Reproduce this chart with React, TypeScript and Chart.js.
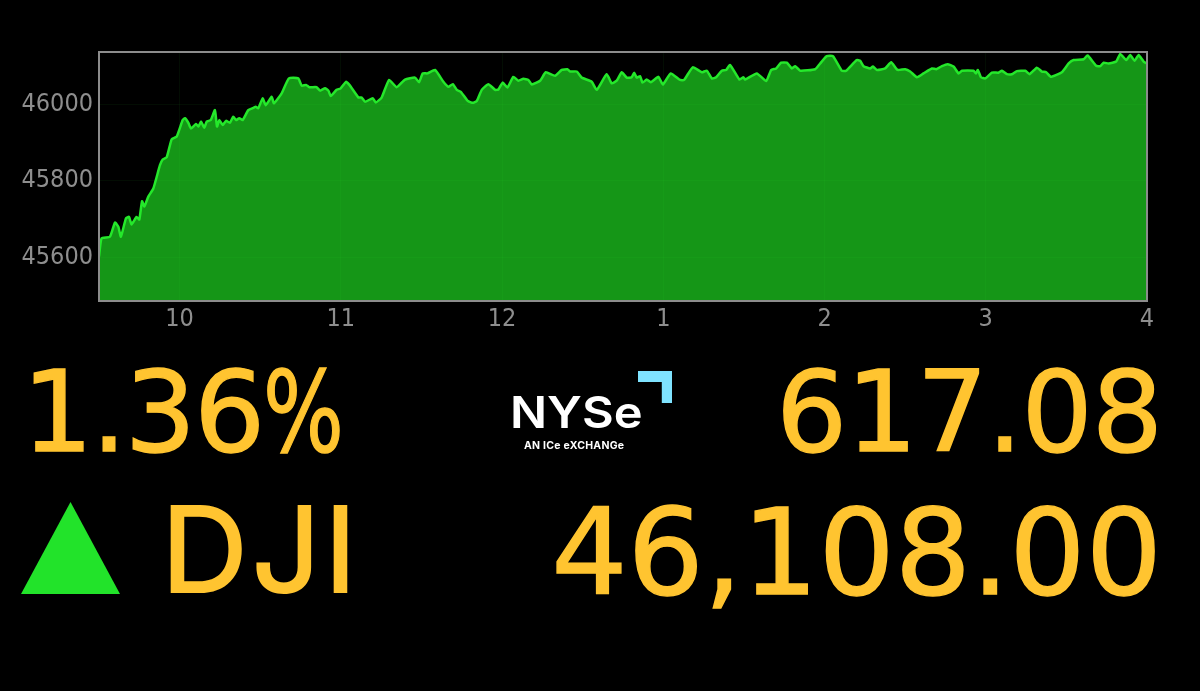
import React, { useEffect, useRef } from "react";
import { Chart, registerables } from "chart.js";

Chart.register(...registerables);

const hours = [
  9.5, 9.516, 9.568, 9.599, 9.62, 9.636, 9.667, 9.686, 9.702, 9.733, 9.75, 9.767, 9.781, 9.806, 9.837, 9.878, 9.895, 9.92, 9.951, 9.982,
  10.019, 10.033, 10.054, 10.071, 10.102, 10.116, 10.133, 10.153, 10.168, 10.193, 10.219, 10.232, 10.246, 10.267, 10.288, 10.312, 10.333, 10.35, 10.37, 10.391,
  10.426, 10.457, 10.472, 10.488, 10.515, 10.534, 10.571, 10.585, 10.633, 10.678, 10.736, 10.757, 10.784, 10.805, 10.85, 10.871, 10.902, 10.923, 10.937, 10.974,
  10.999, 11.032, 11.053, 11.109, 11.129, 11.15, 11.198, 11.216, 11.253, 11.299, 11.346, 11.398, 11.46, 11.485, 11.508, 11.537, 11.584, 11.636, 11.667, 11.694,
  11.719, 11.744, 11.787, 11.818, 11.843, 11.874, 11.915, 11.957, 11.977, 12.004, 12.033, 12.07, 12.101, 12.132, 12.163, 12.184, 12.236, 12.271, 12.329, 12.37,
  12.405, 12.422, 12.463, 12.494, 12.556, 12.587, 12.649, 12.68, 12.711, 12.742, 12.773, 12.804, 12.819, 12.835, 12.856, 12.871, 12.897, 12.922, 12.97, 12.997,
  13.046, 13.104, 13.129, 13.183, 13.239, 13.27, 13.301, 13.328, 13.363, 13.39, 13.414, 13.472, 13.497, 13.507, 13.58, 13.638, 13.669, 13.7, 13.731, 13.766,
  13.797, 13.818, 13.849, 13.942, 13.973, 14.014, 14.052, 14.107, 14.134, 14.2, 14.221, 14.242, 14.283, 14.3, 14.325, 14.376, 14.413, 14.453, 14.5, 14.531,
  14.573, 14.614, 14.666, 14.693, 14.728, 14.763, 14.8, 14.831, 14.852, 14.924, 14.939, 14.951, 14.97, 14.997, 15.038, 15.079, 15.1, 15.131, 15.162, 15.193,
  15.245, 15.272, 15.317, 15.348, 15.375, 15.404, 15.472, 15.514, 15.545, 15.607, 15.631, 15.685, 15.71, 15.731, 15.762, 15.809, 15.834, 15.871, 15.896, 15.923,
  15.948, 15.979, 16.0,
];

const prices = [
  45601, 45649, 45653, 45690, 45679, 45653, 45701, 45705, 45685, 45705, 45698, 45746, 45732, 45758, 45779, 45840, 45855, 45861, 45908, 45915,
  45958, 45963, 45951, 45936, 45948, 45941, 45954, 45938, 45954, 45958, 45984, 45941, 45958, 45945, 45956, 45951, 45967, 45958, 45963, 45958,
  45984, 45990, 45993, 45989, 46015, 45997, 46019, 46002, 46028, 46067, 46067, 46048, 46050, 46044, 46044, 46035, 46041, 46035, 46021, 46037,
  46041, 46058, 46050, 46017, 46017, 46006, 46015, 46004, 46017, 46063, 46044, 46064, 46069, 46057, 46080, 46080, 46089, 46058, 46045, 46052,
  46037, 46032, 46008, 46003, 46008, 46037, 46052, 46037, 46038, 46056, 46043, 46071, 46061, 46066, 46063, 46051, 46061, 46083, 46074, 46089,
  46091, 46085, 46085, 46069, 46058, 46037, 46078, 46054, 46061, 46083, 46069, 46070, 46082, 46069, 46073, 46056, 46064, 46057, 46071, 46051,
  46080, 46063, 46063, 46096, 46083, 46087, 46067, 46070, 46087, 46089, 46102, 46064, 46070, 46064, 46080, 46060, 46089, 46093, 46108, 46108,
  46093, 46099, 46087, 46091, 46106, 46125, 46125, 46087, 46087, 46115, 46113, 46099, 46093, 46098, 46089, 46093, 46109, 46089, 46091, 46085,
  46070, 46080, 46093, 46091, 46099, 46104, 46098, 46080, 46087, 46087, 46080, 46089, 46070, 46067, 46082, 46082, 46087, 46078, 46078, 46086,
  46087, 46078, 46095, 46085, 46083, 46071, 46083, 46106, 46115, 46117, 46127, 46100, 46099, 46108, 46106, 46111, 46131, 46115, 46128, 46113,
  46128, 46111, 46106,
];

const yTicks = [45600, 45800, 46000];
const xTicks = [10, 11, 12, 13, 14, 15, 16];
const percentValue = "1.36";
const symbolText = "DJI";
const changeText = "617.08";
const levelText = "46,108.00";

const frame = {
  id: "frame",
  afterDraw(chart: any) {
    const { ctx, chartArea: a } = chart;
    ctx.save();
    ctx.strokeStyle = "#8c8c8c";
    ctx.lineWidth = 2;
    ctx.strokeRect(a.left, a.top, a.right - a.left, a.bottom - a.top);
    ctx.restore();
  },
};

const gold = "#ffc430";
const digitFont = "'DejaVu Sans', sans-serif";
const tickFont = "'DejaVu Sans Condensed', 'DejaVu Sans', sans-serif";

function Big({ children, style }: { children: React.ReactNode; style: React.CSSProperties }) {
  return (
    <div style={{ position: "absolute", fontFamily: digitFont, color: gold, whiteSpace: "nowrap", lineHeight: 1, WebkitTextStroke: `1.4px ${gold}`, ...style }}>
      {children}
    </div>
  );
}

export default function App() {
  const ref = useRef<HTMLCanvasElement>(null);

  useEffect(() => {
    document.body.style.margin = "0";
    document.body.style.background = "#000";
    const chart = new Chart(ref.current as HTMLCanvasElement, {
      type: "line",
      data: {
        datasets: [
          {
            data: hours.map((h, i) => ({ x: h, y: prices[i] })),
            borderColor: "#25e82b",
            borderWidth: 2.5,
            backgroundColor: "#159617",
            fill: "start",
            pointRadius: 0,
            tension: 0.15,
          },
        ],
      },
      plugins: [frame],
      options: {
        animation: false,
        responsive: false,
        layout: { padding: { left: 0, right: 53, top: 52, bottom: 350 } },
        plugins: { legend: { display: false }, tooltip: { enabled: false } },
        scales: {
          x: {
            type: "linear",
            min: 9.5,
            max: 16,
            afterBuildTicks: (axis: any) => {
              axis.ticks = xTicks.map((value) => ({ value }));
            },
            afterFit: (axis: any) => {
              axis.height = 40;
              axis.paddingLeft = 0;
              axis.paddingRight = 0;
            },
            grid: { color: "rgba(60,255,60,0.05)", drawTicks: false, z: 1 },
            border: { display: false },
            ticks: {
              color: "#8e8e8e",
              padding: 3,
              maxRotation: 0,
              autoSkip: false,
              font: { family: tickFont, size: 25 },
              callback: (v: any) => String(v > 12 ? v - 12 : v),
            },
          },
          y: {
            min: 45485,
            max: 46136,
            afterBuildTicks: (axis: any) => {
              axis.ticks = yTicks.map((value) => ({ value }));
            },
            afterFit: (axis: any) => {
              axis.width = 99;
            },
            grid: { color: "rgba(60,255,60,0.05)", drawTicks: false, z: 1 },
            border: { display: false },
            ticks: {
              color: "#8e8e8e",
              padding: 6,
              font: { family: tickFont, size: 25 },
              callback: (v: any) => String(v),
            },
          },
        },
      },
    });
    return () => chart.destroy();
  }, []);

  return (
    <div style={{ position: "relative", width: 1200, height: 691, background: "#000", overflow: "hidden" }}>
      <canvas ref={ref} width={1200} height={691} style={{ position: "absolute", left: 0, top: 0, display: "block" }} />
      <Big style={{ left: 22, top: 356, fontSize: 112, letterSpacing: -2 }}>
        {percentValue}
        <span style={{ display: "inline-block", transform: "scaleX(0.76)", transformOrigin: "left center", letterSpacing: 0 }}>%</span>
      </Big>
      <Big style={{ right: 38, top: 356, fontSize: 112, letterSpacing: -1 }}>{changeText}</Big>
      <Big style={{ right: 38, top: 493, fontSize: 120, letterSpacing: 0 }}>{levelText}</Big>
      <div style={{ position: "absolute", left: 161, top: 489, fontFamily: "Inter, sans-serif", fontWeight: 500, fontSize: 121, lineHeight: 1, color: gold, letterSpacing: 3, whiteSpace: "nowrap" }}>{symbolText}</div>
      <div style={{ position: "absolute", left: 21, top: 502, width: 99, height: 92, background: "#22e32a", clipPath: "polygon(50% 0, 100% 100%, 0 100%)" }} />
      <div style={{ position: "absolute", left: 638, top: 371, width: 34, height: 32, background: "#7fe3ff", clipPath: "polygon(0 0, 100% 0, 100% 100%, 70% 100%, 70% 34%, 0 34%)" }} />
      <div style={{ position: "absolute", left: 510, top: 390, fontFamily: "Inter, sans-serif", fontWeight: 600, fontSize: 44, lineHeight: 1, color: "#fff", transform: "scaleX(1.11)", transformOrigin: "left center" }}>NYSe</div>
      <div style={{ position: "absolute", left: 524, top: 441, fontFamily: "Inter, sans-serif", fontWeight: 700, fontSize: 10.5, lineHeight: 1, color: "#fff", letterSpacing: 0.25, whiteSpace: "nowrap" }}>AN ICe eXCHANGe</div>
    </div>
  );
}
